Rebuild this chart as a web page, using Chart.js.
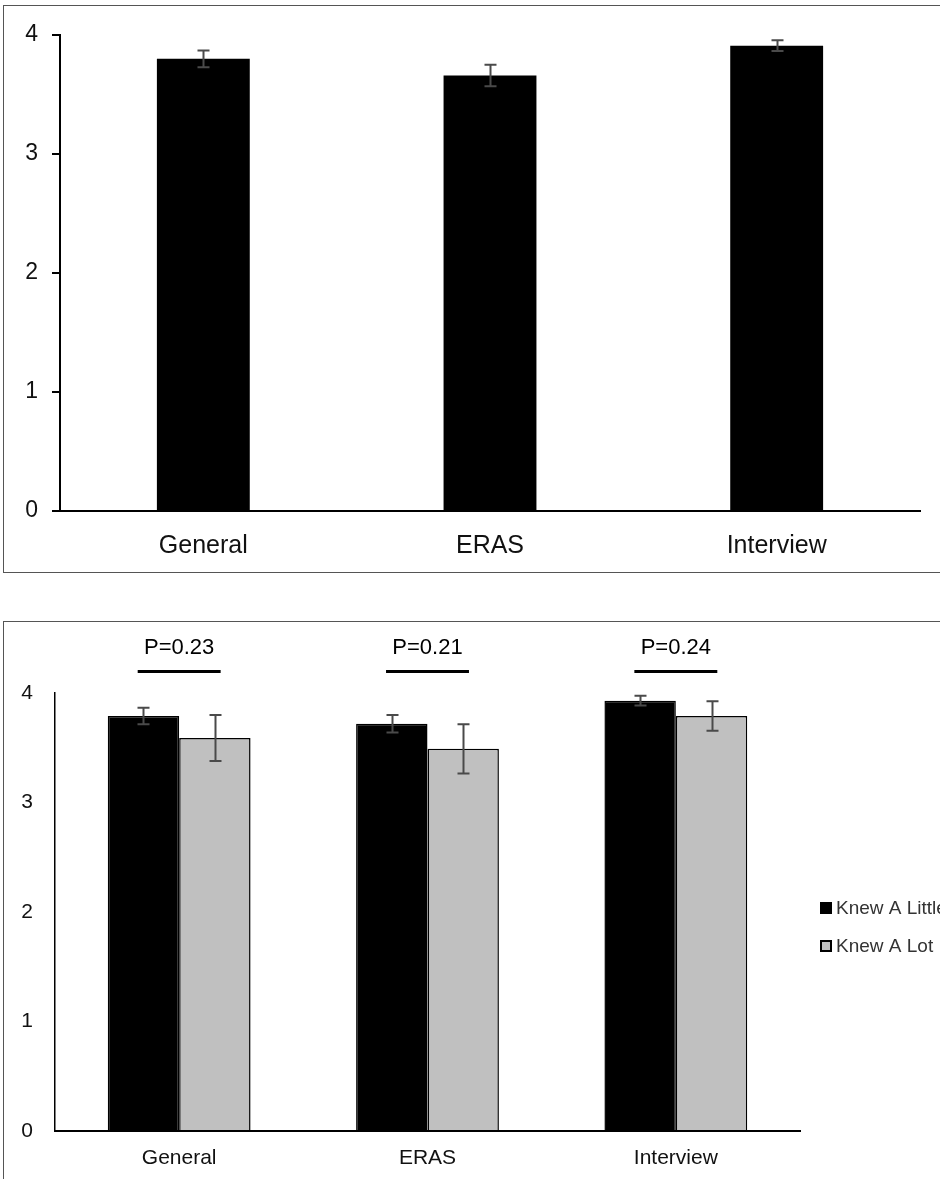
<!DOCTYPE html>
<html>
<head>
<meta charset="utf-8">
<script src="https://cdn.jsdelivr.net/npm/chart.js@4.4.1/dist/chart.umd.min.js"></script>
<style>
  html, body { margin: 0; padding: 0; background: #fff; }
  body { width: 940px; height: 1179px; overflow: hidden; position: relative; }
  .frame { position: absolute; border: 1.5px solid #555; box-sizing: border-box; }
  canvas { position: absolute; left: 0; }
</style>
</head>
<body>
<div class="frame" style="left:3px; top:5px; width:1000px; height:568px;"></div>
<div class="frame" style="left:3px; top:621px; width:1000px; height:700px;"></div>
<canvas id="topChart" width="940" height="580" style="top:0;"></canvas>
<canvas id="bottomChart" width="940" height="557" style="top:622px;"></canvas>
<script>
// Categories and tick values
const categories = ['General', 'ERAS', 'Interview'];
const yTicks = [0, 1, 2, 3, 4];

// Top panel: all respondents
const overallMeans = [3.80, 3.66, 3.91];
const overallErrors = [0.07, 0.09, 0.045];

// Bottom panel: split by prior knowledge
const littleMeans = [3.79, 3.72, 3.93];
const littleErrors = [0.075, 0.08, 0.045];
const lotMeans = [3.59, 3.49, 3.79];
const lotErrors = [0.21, 0.225, 0.135];
const pLabels = ['P=0.23', 'P=0.21', 'P=0.24'];

const FONT = "'Liberation Sans', Arial, sans-serif";

// draws +/- error whiskers on every bar
const errorBars = {
  id: 'errorBars',
  afterDatasetsDraw(chart, args, opts) {
    const { ctx, scales: { y } } = chart;
    ctx.save();
    ctx.strokeStyle = opts.color || '#444';
    ctx.lineWidth = opts.width || 2;
    const cap = opts.cap || 5;
    chart.data.datasets.forEach((ds, di) => {
      if (!ds.errors) return;
      chart.getDatasetMeta(di).data.forEach((bar, i) => {
        const hi = y.getPixelForValue(ds.data[i] + ds.errors[i]);
        const lo = y.getPixelForValue(ds.data[i] - ds.errors[i]);
        const x = Math.round(bar.x) + 0.5;
        ctx.beginPath();
        ctx.moveTo(x, hi); ctx.lineTo(x, lo);
        ctx.moveTo(x - cap, hi); ctx.lineTo(x + cap, hi);
        ctx.moveTo(x - cap, lo); ctx.lineTo(x + cap, lo);
        ctx.stroke();
      });
    });
    ctx.restore();
  }
};

// significance bars with p-values above each group
const sigLabels = {
  id: 'sigLabels',
  afterDraw(chart, args, opts) {
    if (!opts.labels) return;
    const { ctx, scales: { x, y } } = chart;
    const step = x.getPixelForValue(1) - x.getPixelForValue(0);
    const lineY = y.getPixelForValue(opts.lineLevel);
    const textY = y.getPixelForValue(opts.textLevel);
    ctx.save();
    ctx.strokeStyle = '#000';
    ctx.lineWidth = 3;
    ctx.fillStyle = '#000';
    ctx.font = '22px ' + FONT;
    ctx.textAlign = 'center';
    ctx.textBaseline = 'middle';
    opts.labels.forEach((txt, i) => {
      const cx = x.getPixelForValue(i);
      ctx.beginPath();
      ctx.moveTo(cx - step * 0.167, lineY);
      ctx.lineTo(cx + step * 0.167, lineY);
      ctx.stroke();
      ctx.fillText(txt, cx, textY);
    });
    ctx.restore();
  }
};

// legend to the right of the plot, allowed to run off the page edge
const sideLegend = {
  id: 'sideLegend',
  afterDraw(chart, args, opts) {
    if (!opts.x) return;
    const { ctx } = chart;
    ctx.save();
    ctx.font = '19px ' + FONT;
    ctx.textBaseline = 'middle';
    chart.data.datasets.forEach((ds, i) => {
      const cy = opts.y + i * opts.gap;
      ctx.fillStyle = ds.backgroundColor;
      ctx.fillRect(opts.x, cy - 6, 12, 12);
      ctx.strokeStyle = '#000';
      ctx.lineWidth = 2;
      ctx.strokeRect(opts.x + 1, cy - 5, 10, 10);
      ctx.fillStyle = '#333';
      ctx.fillText(ds.label, opts.x + 16, cy + 1);
    });
    ctx.restore();
  }
};

Chart.register(errorBars, sigLabels, sideLegend);

function axisOptions(cfg) {
  return {
    x: {
      grid: { display: false, drawTicks: false },
      border: { display: true, color: '#000', width: 2 },
      ticks: { color: '#111', padding: cfg.xPad, font: { family: FONT, size: cfg.xSize } },
      afterFit(s) { s.height = cfg.xHeight; }
    },
    y: {
      min: 0,
      max: 4,
      afterBuildTicks(s) { s.ticks = yTicks.map(v => ({ value: v })); },
      grid: {
        drawOnChartArea: false,
        drawTicks: cfg.yTick > 0,
        tickLength: cfg.yTick,
        color: '#000',
        lineWidth: 2
      },
      border: { display: true, color: '#000', width: cfg.yBorder },
      ticks: { color: '#111', padding: cfg.yPad, font: { family: FONT, size: cfg.ySize } },
      afterFit(s) { s.width = cfg.yWidth; }
    }
  };
}

new Chart(document.getElementById('topChart'), {
  type: 'bar',
  data: {
    labels: categories,
    datasets: [{
      label: 'Overall',
      data: overallMeans,
      errors: overallErrors,
      backgroundColor: '#000',
      borderWidth: 0,
      categoryPercentage: 0.324,
      barPercentage: 1
    }]
  },
  options: {
    responsive: false,
    animation: false,
    layout: { padding: { left: 0, right: 20, top: 35, bottom: 0 } },
    plugins: {
      legend: { display: false },
      tooltip: { enabled: false },
      errorBars: { color: '#4a4a4a', width: 2, cap: 6 }
    },
    scales: axisOptions({
      xPad: 20, xSize: 25, xHeight: 69,
      yTick: 8, yPad: 14, ySize: 23, yWidth: 60, yBorder: 2
    })
  }
});

new Chart(document.getElementById('bottomChart'), {
  type: 'bar',
  data: {
    labels: categories,
    datasets: [{
      label: 'Knew A Little',
      data: littleMeans,
      errors: littleErrors,
      backgroundColor: '#000',
      borderColor: '#000',
      borderWidth: 1.5,
      categoryPercentage: 0.575,
      barPercentage: 1
    }, {
      label: 'Knew A Lot',
      data: lotMeans,
      errors: lotErrors,
      backgroundColor: '#c0c0c0',
      borderColor: '#000',
      borderWidth: 1.5,
      categoryPercentage: 0.575,
      barPercentage: 1
    }]
  },
  options: {
    responsive: false,
    animation: false,
    layout: { padding: { left: 0, right: 140, top: 71, bottom: 0 } },
    plugins: {
      legend: { display: false },
      tooltip: { enabled: false },
      errorBars: { color: '#4a4a4a', width: 2, cap: 6 },
      sigLabels: { labels: pLabels, lineLevel: 4.196, textLevel: 4.41 },
      sideLegend: { x: 820, y: 286, gap: 38 }
    },
    scales: axisOptions({
      xPad: 15, xSize: 21, xHeight: 48,
      yTick: 0, yPad: 22, ySize: 21, yWidth: 55, yBorder: 1.5
    })
  }
});
</script>
</body>
</html>
